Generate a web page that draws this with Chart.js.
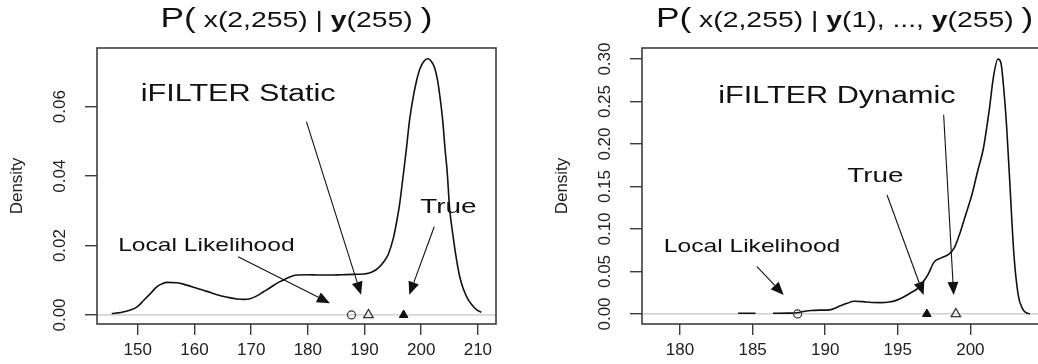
<!DOCTYPE html>
<html><head><meta charset="utf-8">
<script src="https://cdn.jsdelivr.net/npm/chart.js@4.4.1/dist/chart.umd.min.js"></script>
<style>
html,body{margin:0;padding:0;background:#fff;overflow:hidden;width:1038px;height:364px;}
#wrapL{position:absolute;left:0;top:0;width:519px;height:364px;}
#wrapR{position:absolute;left:519px;top:0;width:540px;height:364px;}
</style></head><body>
<div id="wrapL"><canvas id="cL" width="519" height="364"></canvas></div>
<div id="wrapR"><canvas id="cR" width="540" height="364"></canvas></div>
<script>
// ---------- Left panel: P( x(2,255) | y(255) ) ----------
const leftX = [145.4,147.0,148.7,150.0,151.1,152.3,153.4,154.3,155.2,156.9,158.6,160.4,162.2,164.0,165.8,167.5,168.7,169.8,171.0,172.2,173.4,174.5,175.7,176.9,178.0,180.0,182.0,184.0,186.0,188.0,189.8,190.7,191.5,192.4,193.3,194.2,195.1,195.6,196.2,196.7,197.4,197.9,198.6,199.2,199.8,200.6,201.2,201.8,202.4,202.9,203.3,203.8,204.2,204.6,205.0,205.6,206.2,206.8,207.4,208.1,208.9,209.8,210.6];
const leftDensity = [0.0004,0.0007,0.0014,0.0025,0.0043,0.0063,0.0082,0.0090,0.0094,0.0093,0.0086,0.0077,0.0068,0.0058,0.0051,0.0046,0.0045,0.0047,0.0055,0.0067,0.0079,0.0091,0.0101,0.0110,0.0115,0.0116,0.0115,0.0115,0.0116,0.0117,0.0118,0.0120,0.0125,0.0135,0.0151,0.0175,0.0222,0.0262,0.0320,0.0385,0.0480,0.0555,0.0628,0.0676,0.0710,0.0733,0.0738,0.0730,0.0711,0.0675,0.0630,0.0560,0.0480,0.0410,0.0310,0.0230,0.0163,0.0110,0.0077,0.0050,0.0030,0.0015,0.0008];
const leftXTicks = [150,160,170,180,190,200,210];
const leftYTicks = [0,0.02,0.04,0.06];
const leftLocalLik = 187.7;   // open circle
const leftIfilter = 190.7;    // open triangle
const leftTrue = 196.9;       // filled triangle

// ---------- Right panel: P( x(2,255) | y(1), ..., y(255) ) ----------
const rightX = [184.0,185.2,185.8,186.4,187.4,188.1,188.5,189.0,189.6,190.3,190.9,191.5,192.0,192.6,193.2,193.8,194.4,194.9,195.4,195.9,196.4,196.8,197.1,197.5,198.0,198.5,198.9,199.3,199.7,200.1,200.5,200.9,201.3,201.6,201.9,202.1,202.3,202.5,202.7,203.0,203.3,203.6,203.8,204.1];
const rightDensity = [0.0008,0.0008,null,0.0008,0.0010,0.0015,0.0030,0.0040,0.0045,0.0048,0.0085,0.0125,0.0150,0.0145,0.0135,0.0134,0.0140,0.0160,0.0200,0.0250,0.0305,0.0390,0.0470,0.0610,0.0660,0.0700,0.0780,0.0960,0.1180,0.1400,0.1680,0.1950,0.2400,0.2800,0.3000,0.2960,0.2650,0.2200,0.1600,0.0700,0.0220,0.0060,0.0018,0.0003];
const rightXTicks = [180,185,190,195,200];
const rightYTicks = [0,0.05,0.10,0.15,0.20,0.25,0.30];
const rightLocalLik = 188.1;
const rightIfilter = 199.0;
const rightTrue = 197.0;

// annotation labels and arrows (data coordinates: [fromX, fromY, toX, toY])
const leftNotes = [
  {text:'iFILTER Static', x:167.7, y:0.0615, size:23},
  {text:'Local Likelihood', x:162.1, y:0.0184, size:18.5},
  {text:'True', x:204.8, y:0.0294, size:21}
];
const leftArrows = [[179.75,0.0557,189.4,0.0058],[167.7,0.0168,183.9,0.0034],[202.3,0.0254,197.9,0.0058]];
const rightNotes = [
  {text:'iFILTER Dynamic', x:190.81, y:0.2482, size:23},
  {text:'Local Likelihood', x:184.96, y:0.0734, size:18.5},
  {text:'True', x:193.46, y:0.1558, size:21}
];
const rightArrows = [[198.16,0.2344,198.85,0.0224],[185.3,0.0557,187.14,0.0224],[194.26,0.140,196.78,0.0224]];

const leftTitle = [
  {t:'P(', size:28}, {t:' x(2,255) | ', size:22.5}, {t:'y', size:22.5, bold:true},
  {t:'(255) ', size:22.5}, {t:')', size:28}
];
const rightTitle = [
  {t:'P(', size:28}, {t:' x(2,255) | ', size:22.5}, {t:'y', size:22.5, bold:true},
  {t:'(1), ..., ', size:22.5}, {t:'y', size:22.5, bold:true}, {t:'(255) ', size:22.5}, {t:')', size:28}
];

const SANS = "'Liberation Sans', Arial, sans-serif";
const NARROW = "'Liberation Sans Narrow', 'Liberation Sans', Arial, sans-serif";
const STRETCH = 1.33;
const TITLE_STRETCH = 1.26;

function runFont(r){ return (r.bold ? 'bold ' : '') + r.size + 'px ' + SANS; }

function drawRuns(ctx, runs, cx, baseline, sx){
  let total = 0;
  runs.forEach(r => { ctx.font = runFont(r); total += ctx.measureText(r.t).width; });
  ctx.save();
  ctx.translate(cx, baseline);
  ctx.scale(sx, 1);
  ctx.textBaseline = 'alphabetic';
  ctx.textAlign = 'left';
  ctx.fillStyle = '#111';
  let x = -total / 2;
  runs.forEach(r => { ctx.font = runFont(r); ctx.fillText(r.t, x, 0); x += ctx.measureText(r.t).width; });
  ctx.restore();
}

function drawArrow(ctx, x1, y1, x2, y2){
  const ang = Math.atan2(y2 - y1, x2 - x1);
  const hl = 13, hw = 5.5;
  const bx = x2 - hl * Math.cos(ang), by = y2 - hl * Math.sin(ang);
  ctx.save();
  ctx.strokeStyle = '#111'; ctx.fillStyle = '#111'; ctx.lineWidth = 1.1;
  ctx.beginPath(); ctx.moveTo(x1, y1); ctx.lineTo(bx, by); ctx.stroke();
  ctx.beginPath();
  ctx.moveTo(x2, y2);
  ctx.lineTo(bx + hw * Math.sin(ang), by - hw * Math.cos(ang));
  ctx.lineTo(bx - hw * Math.sin(ang), by + hw * Math.cos(ang));
  ctx.closePath(); ctx.fill();
  ctx.restore();
}

const decorPlugin = {
  id: 'decor',
  afterDraw(chart, args, opts){
    const ctx = chart.ctx, a = chart.chartArea;
    const xs = chart.scales.x, ys = chart.scales.y;
    ctx.save();
    ctx.strokeStyle = '#3c3c3c'; ctx.lineWidth = 1.6;
    ctx.strokeRect(a.left, a.top, a.right - a.left, a.bottom - a.top);
    ctx.restore();
    drawRuns(ctx, opts.title, (a.left + a.right) / 2, 27, TITLE_STRETCH);
    opts.arrows.forEach(ar => drawArrow(ctx, xs.getPixelForValue(ar[0]), ys.getPixelForValue(ar[1]), xs.getPixelForValue(ar[2]), ys.getPixelForValue(ar[3])));
    opts.notes.forEach(n => drawRuns(ctx, [{t:n.text, size:n.size}], xs.getPixelForValue(n.x), ys.getPixelForValue(n.y), STRETCH));
  }
};

function makeChart(id, p){
  const curve = p.xs.map((x, i) => ({x: x, y: p.ys[i]}));
  const axisGrid = (len) => ({drawOnChartArea:false, drawTicks:true, tickLength:len, color:'#3c3c3c', lineWidth:1.4});
  return new Chart(document.getElementById(id), {
    type: 'line',
    data: { datasets: [
      {label:'Local Likelihood', type:'scatter', data:[{x:p.ll, y:0}], pointStyle:'circle', pointRadius:4, borderColor:'#333', backgroundColor:'rgba(255,255,255,0)', borderWidth:1.2, order:0},
      {label:'iFILTER', type:'scatter', data:[{x:p.ifil, y:0}], pointStyle:'triangle', pointRadius:5.5, borderColor:'#333', backgroundColor:'rgba(255,255,255,0)', borderWidth:1.3, order:0},
      {label:'True', type:'scatter', data:[{x:p.tru, y:0}], pointStyle:'triangle', pointRadius:5, borderColor:'#111', backgroundColor:'#111', borderWidth:1, order:0},
      {label:'Density', data:curve, borderColor:'#111', borderWidth:1.6, pointRadius:0, cubicInterpolationMode:'monotone', spanGaps:false, fill:false, order:1},
      {label:'zero', data:[{x:p.xMin, y:0}, {x:p.xMax, y:0}], borderColor:'#c6c6c6', borderWidth:1.3, pointRadius:0, order:2}
    ]},
    options: {
      responsive:false, animation:false, devicePixelRatio:1,
      layout:{padding:p.pad},
      plugins:{legend:{display:false}, tooltip:{enabled:false},
        decor:{title:p.title, notes:p.notes, arrows:p.arrows}},
      scales:{
        x:{type:'linear', min:p.xMin, max:p.xMax,
          afterBuildTicks: s => { s.ticks = p.xTicks.map(v => ({value:v})); },
          afterFit: s => { s.height = 40; },
          border:{display:false}, grid:axisGrid(11),
          ticks:{font:{family:SANS, size:17}, color:'#222', padding:5, maxRotation:0, autoSkip:false, callback: v => String(v)}},
        y:{type:'linear', min:p.yMin, max:p.yMax,
          afterBuildTicks: s => { s.ticks = p.yTicks.map(v => ({value:v})); },
          afterFit: s => { s.width = 97; },
          border:{display:false}, grid:axisGrid(12),
          ticks:{font:{family:NARROW, size:17}, color:'#222', minRotation:90, maxRotation:90, crossAlign:'center', padding:8, autoSkip:false, callback: v => Number(v).toFixed(2)},
          title:{display:true, text:'Density', font:{family:NARROW, size:17}, color:'#222', padding:{top:7, bottom:0}}}
      }
    },
    plugins:[decorPlugin]
  });
}

makeChart('cL', {xs:leftX, ys:leftDensity, xTicks:leftXTicks, yTicks:leftYTicks,
  xMin:142.8, xMax:213.2, yMin:-0.0026, yMax:0.0769,
  ll:leftLocalLik, ifil:leftIfilter, tru:leftTrue,
  pad:{left:0, top:48, right:23, bottom:0},
  title:leftTitle, notes:leftNotes, arrows:leftArrows});

makeChart('cR', {xs:rightX, ys:rightDensity, xTicks:rightXTicks, yTicks:rightYTicks,
  xMin:177.38, xMax:205.3, yMin:-0.0118, yMax:0.313,
  ll:rightLocalLik, ifil:rightIfilter, tru:rightTrue,
  pad:{left:26, top:48, right:11.7, bottom:0},
  title:rightTitle, notes:rightNotes, arrows:rightArrows});
</script>
</body></html>
